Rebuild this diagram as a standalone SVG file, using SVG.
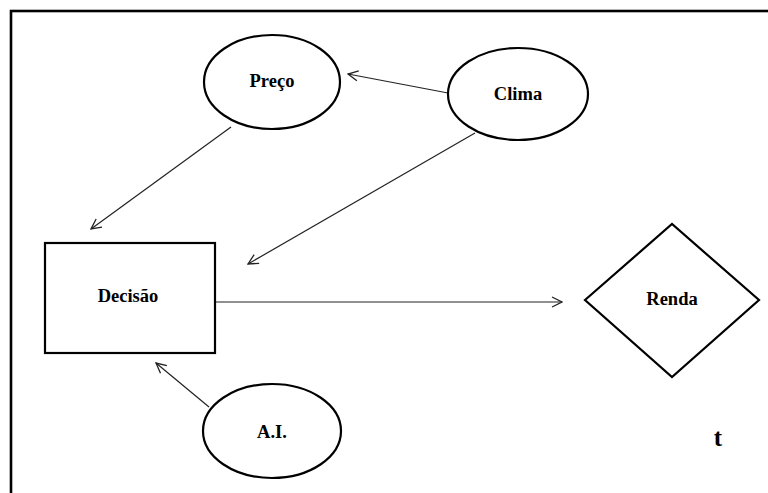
<svg xmlns="http://www.w3.org/2000/svg" width="768" height="493" viewBox="0 0 768 493">
  <style>
    .shape { fill: #ffffff; stroke: #000000; stroke-width: 2.2; }
    .label { font-family: "Liberation Serif", "Times New Roman", serif; font-weight: bold; font-size: 18.5px; fill: #000000; text-anchor: middle; dominant-baseline: central; }
    .edge { stroke: #222222; stroke-width: 1.2; fill: none; marker-end: url(#arrow); }
  </style>
  <defs>
    <marker id="arrow" viewBox="0 0 12 12" refX="11" refY="6" markerWidth="12" markerHeight="12" markerUnits="userSpaceOnUse" orient="auto">
      <polyline points="1,1 11,6 1,11" fill="none" stroke="#222222" stroke-width="1.3"/>
    </marker>
  </defs>

  <rect width="768" height="493" fill="#ffffff"/>
  <!-- outer frame, open past the right and bottom edges -->
  <rect x="11" y="11" width="770" height="500" fill="none" stroke="#000000" stroke-width="2.6"/>

  <g id="connectors">
    <line class="edge" x1="448" y1="93" x2="348" y2="74"/>
    <line class="edge" x1="231" y1="127" x2="91" y2="229"/>
    <line class="edge" x1="475" y1="133" x2="248" y2="264"/>
    <line class="edge" x1="215" y1="302" x2="562" y2="302"/>
    <line class="edge" x1="209" y1="407" x2="156" y2="363"/>
  </g>

  <g id="preco">
    <ellipse class="shape" cx="272" cy="82" rx="68" ry="47"/>
    <text class="label" x="272" y="81">Preço</text>
  </g>
  <g id="clima">
    <ellipse class="shape" cx="518" cy="94" rx="70" ry="46"/>
    <text class="label" x="518" y="94">Clima</text>
  </g>
  <g id="decisao">
    <rect class="shape" x="45" y="243" width="170" height="110"/>
    <text class="label" x="128" y="296">Decisão</text>
  </g>
  <g id="renda">
    <polygon class="shape" points="585,300 672,224 759,300 672,377"/>
    <text class="label" x="672" y="299">Renda</text>
  </g>
  <g id="ai">
    <ellipse class="shape" cx="272" cy="431" rx="69" ry="47"/>
    <text class="label" x="272" y="432">A.I.</text>
  </g>
  <g id="t-label">
    <text class="label" x="718" y="437" style="font-size:25px">t</text>
  </g>
</svg>
